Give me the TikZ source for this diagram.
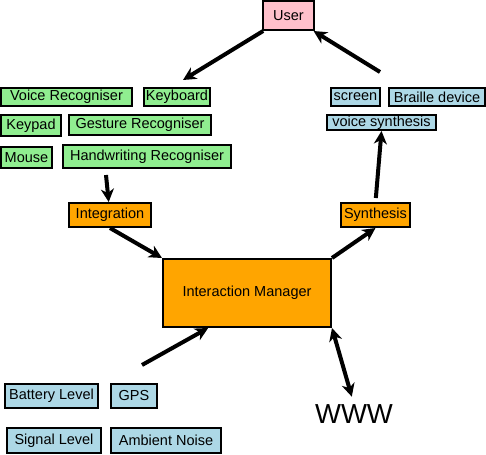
\documentclass[tikz,border=0pt]{standalone}
\usepackage{fontspec}
\setmainfont{Liberation Sans}
\usetikzlibrary{arrows.meta}
\definecolor{usrpink}{HTML}{FFC0CB}
\definecolor{ingreen}{HTML}{90EE90}
\definecolor{outblue}{HTML}{ADD8E6}
\definecolor{mgrorange}{HTML}{FFA500}

\begin{document}
\begin{tikzpicture}[
    x=1pt, y=-1pt,
    box/.style={rectangle, draw, line width=2pt, inner sep=0pt, align=center, font=\fontsize{14.5}{16}\selectfont},
    user/.style={box, fill=usrpink},
    input/.style={box, fill=ingreen},
    output/.style={box, fill=outblue},
    context/.style={box, fill=outblue},
    core/.style={box, fill=mgrorange},
    tip/.style={Stealth[length=13pt,width=13pt,inset=4pt]},
    arrow/.style={-{Stealth[length=13pt,width=13pt,inset=4pt]}, line width=4pt},
    dblarrow/.style={{Stealth[length=13pt,width=13pt,inset=4pt]}-{Stealth[length=13pt,width=13pt,inset=4pt]}, line width=4pt}
]
    \useasboundingbox (0,0) rectangle (486,454);

    % Utente
    \node[user, minimum width=51pt, minimum height=29pt] (user) at (288.5,15.5) {User};

    % Dispositivi di input
    \node[input, minimum width=131pt, minimum height=18pt] (voicerec) at (66.5,97) {Voice Recogniser};
    \node[input, minimum width=66pt, minimum height=18pt] (keyboard) at (177,97) {Keyboard};
    \node[input, minimum width=60pt, minimum height=21pt] (keypad) at (31,125.5) {Keypad};
    \node[input, minimum width=142pt, minimum height=20pt] (gesture) at (140,125) {Gesture Recogniser};
    \node[input, minimum width=51pt, minimum height=21pt] (mouse) at (26.5,157.5) {Mouse};
    \node[input, minimum width=168pt, minimum height=23pt] (handwriting) at (147,156.5) {Handwriting Recogniser};

    % Dispositivi di output
    \node[output, minimum width=49pt, minimum height=18pt] (screen) at (355.5,97) {screen};
    \node[output, minimum width=96pt, minimum height=18pt] (braille) at (437,97) {Braille device};
    \node[output, minimum width=109pt, minimum height=15pt] (vsynth) at (381.5,122.5) {voice synthesis};

    % Integrazione e sintesi
    \node[core, minimum width=82pt, minimum height=24pt] (integration) at (110,215) {Integration};
    \node[core, minimum width=69pt, minimum height=24pt] (synthesis) at (375.5,215) {Synthesis};
    \node[core, minimum width=168pt, minimum height=68pt] (im) at (247,293) {Interaction Manager};

    % Contesto
    \node[context, minimum width=93pt, minimum height=24pt] (battery) at (51.5,396) {Battery Level};
    \node[context, minimum width=46pt, minimum height=24pt] (gps) at (134,396) {GPS};
    \node[context, minimum width=94pt, minimum height=25pt] (signal) at (54,440.5) {Signal Level};
    \node[context, minimum width=110pt, minimum height=25pt] (noise) at (166,440.5) {Ambient Noise};

    \node[inner sep=0pt, font=\fontsize{27.5}{30}\selectfont] (www) at (354,414) {WWW};

    % Punti liberi delle frecce
    \coordinate (kbin) at (183,80);
    \coordinate (outs) at (380,72);
    \coordinate (ins) at (106,175);
    \coordinate (ctx) at (142,365);

    \draw[arrow] (user) -- (kbin);
    \draw[arrow] (outs) -- (user);
    \draw[arrow] (ins) -- (integration);
    \draw[arrow] (integration.south) -- (im.north west);
    \draw[arrow] (ctx) -- (im.222);
    \draw[arrow] (im.north east) -- (synthesis.south);
    \draw[arrow, shorten <=4pt] (synthesis.north) -- (vsynth.south);
    \draw[dblarrow, shorten >=8pt] (im.south east) -- (www.north);
\end{tikzpicture}
\end{document}
